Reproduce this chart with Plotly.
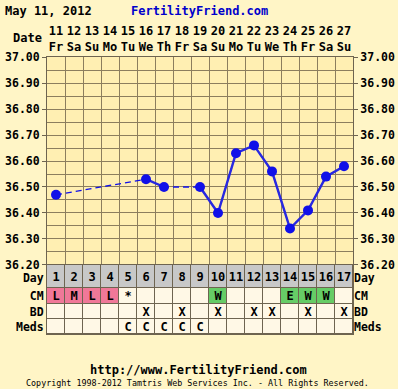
import plotly.graph_objects as go

# ---------------- data ----------------
days = list(range(1, 18))
dates = [11, 12, 13, 14, 15, 16, 17, 18, 19, 20, 21, 22, 23, 24, 25, 26, 27]
weekdays = ["Fr", "Sa", "Su", "Mo", "Tu", "We", "Th", "Fr", "Sa", "Su",
            "Mo", "Tu", "We", "Th", "Fr", "Sa", "Su"]
temps = [36.47, None, None, None, None, 36.53, 36.50, None, 36.50, 36.40,
         36.63, 36.66, 36.56, 36.34, 36.41, 36.54, 36.58]
cm = ["L", "M", "L", "L", "*", "", "", "", "", "W", "", "", "", "E", "W", "W", ""]
bd = ["", "", "", "", "", "X", "", "X", "", "X", "", "X", "X", "", "X", "", "X"]
meds = ["", "", "", "", "C", "C", "C", "C", "C", "", "", "", "", "", "", "", ""]
row_names = ["Day", "CM", "BD", "Meds"]
temp_ticks = [36.2, 36.3, 36.4, 36.5, 36.6, 36.7, 36.8, 36.9, 37.0]

# ---------------- style ----------------
PAGE_BG = "#FFF5C6"
PLOT_BG = "#FFEFB2"
GRID = "#8C7E5E"
LINE = "#6E6450"
CREAM = "#FFF8E6"
GRAY = "#C8C8C8"
PINK = "#F07898"
GREEN = "#66CC66"
BLUE = "#1010E8"
MONO = "DejaVu Sans Mono"

W, H = 398, 389
ML, MR, MT, MB = 47, 45, 57, 55
PW, PH = W - ML - MR, H - MT - MB
TABLE_PX = 69
split = TABLE_PX / PH
row_edges = [0, 23, 39, 54, 69]
row_centers = [(row_edges[i] + row_edges[i + 1]) / 2 for i in range(4)]
label_pos = [row_centers[0] + 1.5] + row_centers[1:]


def px_x(p):
    return (p - ML) / PW


def px_y(p):
    return (H - MB - p) / PH


# table codes: 0 cream, 1 gray, 2 pink, 3 green
def cm_code(v):
    if v in ("L", "M", "H"):
        return 2
    if v in ("E", "W"):
        return 3
    return 0


z = [[1] * len(days), [cm_code(v) for v in cm], [0] * len(days), [0] * len(days)]
text = [[str(d) for d in days], cm, bd, meds]
cs = [[0, CREAM], [1 / 6, CREAM], [1 / 6, GRAY], [0.5, GRAY], [0.5, PINK],
      [5 / 6, PINK], [5 / 6, GREEN], [1, GREEN]]

fig = go.Figure()

# dashed connector across missing days
fig.add_trace(go.Scatter(
    x=days, y=temps, mode="lines", connectgaps=True,
    line=dict(color=BLUE, width=1.3, dash="6px,4px"),
    hoverinfo="skip", showlegend=False, xaxis="x", yaxis="y"))
# solid line for consecutive days + markers
fig.add_trace(go.Scatter(
    x=days, y=temps, mode="lines+markers", connectgaps=False,
    line=dict(color="#2828E0", width=2.4),
    marker=dict(color=BLUE, size=10),
    showlegend=False, xaxis="x", yaxis="y"))
# invisible helpers for the overlay axes
fig.add_trace(go.Scatter(x=[days[0]], y=[temps[0]], mode="markers",
                         marker=dict(opacity=0), hoverinfo="skip",
                         showlegend=False, xaxis="x3", yaxis="y3"))

# table
fig.add_trace(go.Heatmap(
    x=days, y=row_edges, z=z, text=text, texttemplate="%{text}",
    textfont=dict(family=MONO, size=12, color="#000000", weight="bold"),
    colorscale=cs, zmin=0, zmax=3, showscale=False, xgap=1, ygap=1,
    hoverinfo="skip", xaxis="x2", yaxis="y2"))
fig.add_trace(go.Scatter(x=[days[0]], y=[row_centers[0]], mode="markers",
                         marker=dict(opacity=0), hoverinfo="skip",
                         showlegend=False, xaxis="x2", yaxis="y4"))

tickfont = dict(family=MONO, size=12, color="#000000", weight="bold")
sidefont = dict(family=MONO, size=11.5, color="#000000", weight="bold")
xr = [0.5, 17.5]
yr = [36.1999, 37.0001]
bounds = [d - 0.5 for d in days] + [days[-1] + 0.5]

fig.update_layout(
    width=W, height=H, margin=dict(l=ML, r=MR, t=MT, b=MB, autoexpand=False),
    paper_bgcolor=PAGE_BG, plot_bgcolor=LINE,
    xaxis=dict(domain=[0, 1], anchor="y", range=xr, tickvals=bounds,
               showticklabels=False, ticks="", showgrid=True, gridcolor=GRID,
               gridwidth=1, zeroline=False, showline=True, mirror=True,
               linecolor=LINE, linewidth=1, automargin=False),
    xaxis3=dict(overlaying="x", side="top", anchor="y", range=xr,
                tickvals=days,
                ticktext=[f"{d}<br>{w}" for d, w in zip(dates, weekdays)],
                ticks="", showgrid=False, zeroline=False, tickfont=tickfont,
                ticklabelstandoff=3, automargin=False),
    yaxis=dict(domain=[split, 1], anchor="x", range=yr, tickvals=temp_ticks,
               tickformat=".2f", ticks="outside", ticklen=4, tickcolor=LINE,
               showgrid=True, gridcolor=GRID, zeroline=False,
               minor=dict(dtick=0.05, tick0=36.2, showgrid=True,
                          gridcolor=GRID, ticks=""),
               showline=True, mirror=True, linecolor=LINE, tickfont=sidefont,
               automargin=False),
    yaxis3=dict(overlaying="y", side="right", anchor="x", range=yr,
                tickvals=temp_ticks, tickformat=".2f", ticks="outside",
                ticklen=4, tickcolor=LINE, showgrid=False, zeroline=False,
                tickfont=sidefont, automargin=False),
    xaxis2=dict(domain=[0, 1], anchor="y2", range=xr, showticklabels=False,
                ticks="", showgrid=False, zeroline=False, showline=True,
                mirror=True, linecolor=LINE, automargin=False),
    yaxis2=dict(domain=[0, split], anchor="x2", range=[row_edges[-1], 0],
                tickvals=label_pos, ticktext=row_names, ticks="",
                showgrid=False, zeroline=False, showline=True, mirror=True,
                linecolor=LINE, tickfont=sidefont, automargin=False),
    yaxis4=dict(overlaying="y2", side="right", anchor="x2",
                range=[row_edges[-1], 0], tickvals=label_pos,
                ticktext=row_names, ticks="", showgrid=False, zeroline=False,
                tickfont=sidefont, automargin=False),
    shapes=[dict(type="rect", xref="x domain", yref="y domain", x0=0, x1=1,
                 y0=0, y1=1, fillcolor=PLOT_BG, line=dict(width=0),
                 layer="below")],
    annotations=[
        dict(text="May 11, 2012", xref="paper", yref="paper", x=px_x(3),
             y=px_y(11), xanchor="left", yanchor="middle", showarrow=False,
             font=dict(family=MONO, size=12, color="#000000", weight="bold")),
        dict(text="FertilityFriend.com", xref="paper", yref="paper",
             x=px_x(199), y=px_y(11), xanchor="center", yanchor="middle",
             showarrow=False,
             font=dict(family=MONO, size=12, color="#0000CC", weight="bold")),
        dict(text="Date", xref="paper", yref="paper", x=px_x(44), y=px_y(38),
             xanchor="right", yanchor="middle", showarrow=False,
             font=dict(family=MONO, size=12, color="#000000", weight="bold")),
        dict(text="http://www.FertilityFriend.com", xref="paper",
             yref="paper", x=px_x(198), y=px_y(370), xanchor="center",
             yanchor="middle", showarrow=False,
             font=dict(family=MONO, size=12, color="#000000", weight="bold")),
        dict(text="Copyright 1998-2012 Tamtris Web Services Inc. - All Rights Reserved.",
             xref="paper", yref="paper", x=px_x(197), y=px_y(383),
             xanchor="center", yanchor="middle", showarrow=False,
             font=dict(family=MONO, size=8.4, color="#000000")),
    ],
)

fig.write_html("out.html", config={"displayModeBar": False},
               post_script="document.body.style.margin='0';")
